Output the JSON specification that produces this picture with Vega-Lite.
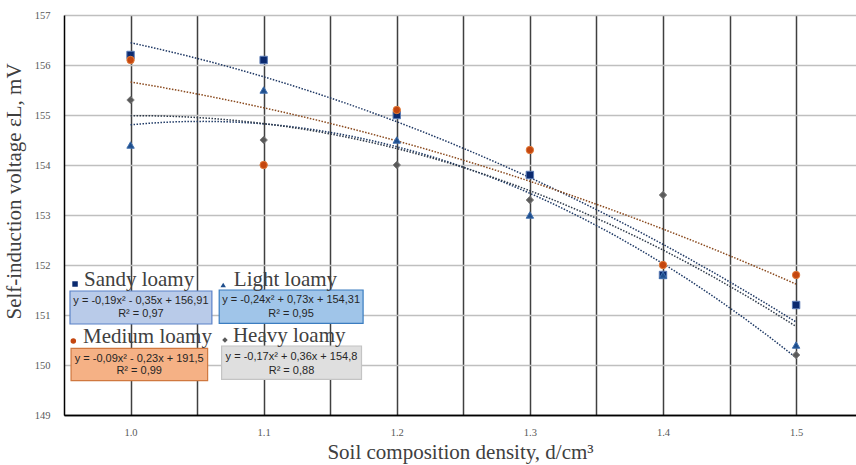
{
  "$schema": "https://vega.github.io/schema/vega-lite/v6.json",
  "autosize": "none",
  "width": 792,
  "height": 400,
  "padding": {"left": 64, "top": 15, "right": 0, "bottom": 50},
  "background": "white",
  "config": {"view": {"stroke": null}, "font": "Liberation Serif"},
  "datasets": {
    "pts": [
      {"soil": "Sandy loamy", "d": 1.0, "v": 156.2},
      {"soil": "Sandy loamy", "d": 1.1, "v": 156.1},
      {"soil": "Sandy loamy", "d": 1.2, "v": 155.0},
      {"soil": "Sandy loamy", "d": 1.3, "v": 153.8},
      {"soil": "Sandy loamy", "d": 1.4, "v": 151.8},
      {"soil": "Sandy loamy", "d": 1.5, "v": 151.2},
      {"soil": "Light loamy", "d": 1.0, "v": 154.4},
      {"soil": "Light loamy", "d": 1.1, "v": 155.5},
      {"soil": "Light loamy", "d": 1.2, "v": 154.5},
      {"soil": "Light loamy", "d": 1.3, "v": 153.0},
      {"soil": "Light loamy", "d": 1.4, "v": 151.8},
      {"soil": "Light loamy", "d": 1.5, "v": 150.4},
      {"soil": "Medium loamy", "d": 1.0, "v": 156.1},
      {"soil": "Medium loamy", "d": 1.1, "v": 154.0},
      {"soil": "Medium loamy", "d": 1.2, "v": 155.1},
      {"soil": "Medium loamy", "d": 1.3, "v": 154.3},
      {"soil": "Medium loamy", "d": 1.4, "v": 152.0},
      {"soil": "Medium loamy", "d": 1.5, "v": 151.8},
      {"soil": "Heavy loamy", "d": 1.0, "v": 155.3},
      {"soil": "Heavy loamy", "d": 1.1, "v": 154.5},
      {"soil": "Heavy loamy", "d": 1.2, "v": 154.0},
      {"soil": "Heavy loamy", "d": 1.3, "v": 153.3},
      {"soil": "Heavy loamy", "d": 1.4, "v": 153.4},
      {"soil": "Heavy loamy", "d": 1.5, "v": 150.2}
    ],
    "boxes": [
      {"soil": "Sandy loamy", "d": 0.9545, "d2": 1.0611, "v": 151.48, "v2": 150.82},
      {"soil": "Light loamy", "d": 1.0666, "d2": 1.1747, "v": 151.5, "v2": 150.834},
      {"soil": "Medium loamy", "d": 0.9553, "d2": 1.0579, "v": 150.334, "v2": 149.686},
      {"soil": "Heavy loamy", "d": 1.0684, "d2": 1.1735, "v": 150.38, "v2": 149.714}
    ],
    "eqs": [
      {"soil": "Sandy loamy", "d": 1.0078, "v": 151.286, "t": "y = -0,19x² - 0,35x + 156,91"},
      {"soil": "Sandy loamy", "d": 1.0078, "v": 151.02, "t": "R² = 0,97"},
      {"soil": "Light loamy", "d": 1.1206, "v": 151.31, "t": "y = -0,24x² + 0,73x + 154,31"},
      {"soil": "Light loamy", "d": 1.1206, "v": 151.02, "t": "R² = 0,95"},
      {"soil": "Medium loamy", "d": 1.0065, "v": 150.12, "t": "y = -0,09x² - 0,23x + 191,5"},
      {"soil": "Medium loamy", "d": 1.0065, "v": 149.88, "t": "R² = 0,99"},
      {"soil": "Heavy loamy", "d": 1.1209, "v": 150.153, "t": "y = -0,17x² + 0,36x + 154,8"},
      {"soil": "Heavy loamy", "d": 1.1209, "v": 149.886, "t": "R² = 0,88"}
    ],
    "labels": [
      {"soil": "Sandy loamy", "d": 0.965, "v": 151.58},
      {"soil": "Light loamy", "d": 1.0776, "v": 151.58},
      {"soil": "Medium loamy", "d": 0.9643, "v": 150.44},
      {"soil": "Heavy loamy", "d": 1.0769, "v": 150.466}
    ],
    "markers": [
      {"soil": "Sandy loamy", "d": 0.9583, "v": 151.62},
      {"soil": "Light loamy", "d": 1.0696, "v": 151.6},
      {"soil": "Medium loamy", "d": 0.957, "v": 150.48},
      {"soil": "Heavy loamy", "d": 1.0709, "v": 150.5}
    ]
  },
  "layer": [
    {
      "data": {"name": "pts"},
      "transform": [
        {"regression": "v", "on": "d", "groupby": ["soil"], "method": "poly", "order": 2, "extent": [1.0, 1.5]}
      ],
      "mark": {"type": "line", "strokeDash": [1.5, 1.5], "strokeWidth": 1.5},
      "encoding": {
        "x": {
          "field": "d", "type": "quantitative",
          "scale": {"domain": [0.95, 1.545], "nice": false, "zero": false},
          "axis": {
            "title": "Soil composition density, d/cm³",
            "titleFont": "Liberation Serif", "titleFontSize": 21, "titleFontWeight": "normal", "titleColor": "#404040",
            "titleY": 43, "titleBaseline": "alphabetic",
            "values": [1.0, 1.05, 1.1, 1.15, 1.2, 1.25, 1.3, 1.35, 1.4, 1.45, 1.5],
            "labelExpr": "round(datum.value*100) % 10 == 0 ? format(datum.value, '.1f') : ''",
            "labelFont": "Liberation Serif", "labelFontSize": 10.5, "labelColor": "#595959", "labelPadding": 12,
            "ticks": false, "grid": true, "gridColor": "#404040", "gridWidth": 1.5,
            "domainColor": "#000000", "domainWidth": 1.5
          }
        },
        "y": {
          "field": "v", "type": "quantitative",
          "scale": {"domain": [149, 157], "nice": false, "zero": false},
          "axis": {
            "title": "Self-induction voltage εL, mV",
            "titleFont": "Liberation Serif", "titleFontSize": 21, "titleFontWeight": "normal", "titleColor": "#404040",
            "titleX": -44, "titleY": 176, "titleBaseline": "alphabetic", "titleAngle": -90,
            "values": [149, 150, 151, 152, 153, 154, 155, 156, 157],
            "labelFont": "Liberation Serif", "labelFontSize": 10.5, "labelColor": "#595959", "labelPadding": 14,
            "ticks": false, "grid": true,
            "gridColor": {"condition": {"test": "datum.value == 149", "value": "#000000"}, "value": "#bfbfbf"},
            "gridWidth": 1.5,
            "domainColor": "#000000", "domainWidth": 1.5
          }
        },
        "color": {
          "field": "soil", "type": "nominal",
          "scale": {"domain": ["Sandy loamy", "Light loamy", "Medium loamy", "Heavy loamy"], "range": ["#1f3864", "#1f3a66", "#8a4a1e", "#2e3a4a"]},
          "legend": null
        }
      }
    },
    {
      "data": {"name": "pts"},
      "mark": {"type": "point", "filled": true, "size": 55, "strokeWidth": 1, "opacity": 1},
      "encoding": {
        "x": {"field": "d", "type": "quantitative"},
        "y": {"field": "v", "type": "quantitative"},
        "shape": {
          "field": "soil", "type": "nominal",
          "scale": {"domain": ["Sandy loamy", "Light loamy", "Medium loamy", "Heavy loamy"], "range": ["square", "triangle-up", "circle", "diamond"]},
          "legend": null
        },
        "fill": {
          "field": "soil", "type": "nominal",
          "scale": {"domain": ["Sandy loamy", "Light loamy", "Medium loamy", "Heavy loamy"], "range": ["#0b2a6f", "#1f4e8c", "#c4460f", "#5a5a5a"]},
          "legend": null
        },
        "stroke": {
          "field": "soil", "type": "nominal",
          "scale": {"domain": ["Sandy loamy", "Light loamy", "Medium loamy", "Heavy loamy"], "range": ["#5b7bb5", "#3f6fae", "#e07b39", "#808080"]},
          "legend": null
        }
      }
    },
    {
      "data": {"name": "boxes"},
      "mark": {"type": "rect", "strokeWidth": 1.2},
      "encoding": {
        "x": {"field": "d", "type": "quantitative"},
        "x2": {"field": "d2"},
        "y": {"field": "v", "type": "quantitative"},
        "y2": {"field": "v2"},
        "fill": {
          "field": "soil", "type": "nominal",
          "scale": {"domain": ["Sandy loamy", "Light loamy", "Medium loamy", "Heavy loamy"], "range": ["#b9cbe9", "#a0c5e9", "#f5b185", "#dfdfdf"]},
          "legend": null
        },
        "stroke": {
          "field": "soil", "type": "nominal",
          "scale": {"domain": ["Sandy loamy", "Light loamy", "Medium loamy", "Heavy loamy"], "range": ["#5b82c8", "#3b7dc0", "#d0783f", "#c4c4c4"]},
          "legend": null
        }
      }
    },
    {
      "data": {"name": "eqs"},
      "mark": {"type": "text", "align": "center", "baseline": "middle", "font": "Liberation Sans", "fontSize": 11, "color": "#262626"},
      "encoding": {
        "x": {"field": "d", "type": "quantitative"},
        "y": {"field": "v", "type": "quantitative"},
        "text": {"field": "t"}
      }
    },
    {
      "data": {"name": "labels"},
      "mark": {"type": "text", "align": "left", "baseline": "alphabetic", "font": "Liberation Serif", "fontSize": 21, "color": "#404040"},
      "encoding": {
        "x": {"field": "d", "type": "quantitative"},
        "y": {"field": "v", "type": "quantitative"},
        "text": {"field": "soil"}
      }
    },
    {
      "data": {"name": "markers"},
      "mark": {"type": "point", "filled": true, "size": 30, "opacity": 1},
      "encoding": {
        "x": {"field": "d", "type": "quantitative"},
        "y": {"field": "v", "type": "quantitative"},
        "shape": {
          "field": "soil", "type": "nominal",
          "scale": {"domain": ["Sandy loamy", "Light loamy", "Medium loamy", "Heavy loamy"], "range": ["square", "triangle-up", "circle", "diamond"]},
          "legend": null
        },
        "fill": {
          "field": "soil", "type": "nominal",
          "scale": {"domain": ["Sandy loamy", "Light loamy", "Medium loamy", "Heavy loamy"], "range": ["#0b2a6f", "#1f4e8c", "#c4460f", "#5a5a5a"]},
          "legend": null
        }
      }
    }
  ],
  "resolve": {"scale": {"color": "independent", "fill": "independent", "stroke": "independent", "shape": "independent"}}
}
